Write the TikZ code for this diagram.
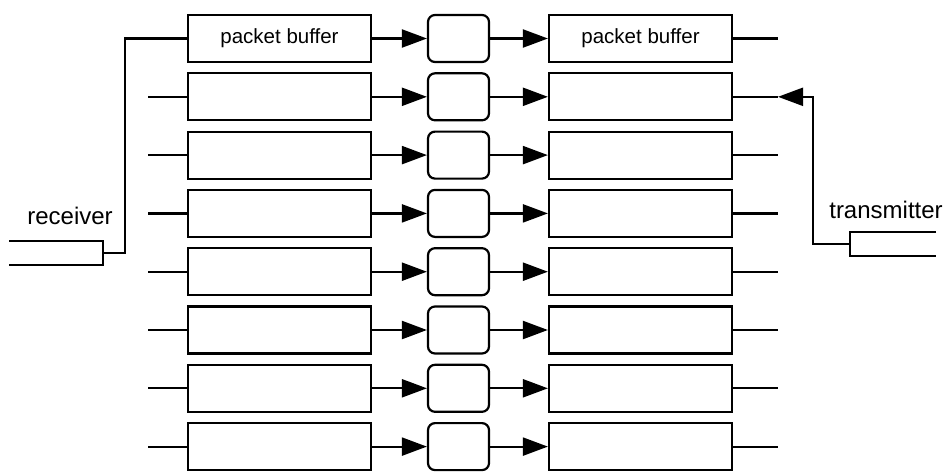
\documentclass[tikz,border=0pt]{standalone}
\usepackage{fontspec}
\setmainfont{Liberation Sans}
\usetikzlibrary{arrows.meta}
\begin{document}
\begin{tikzpicture}[x=1pt,y=-1pt, line width=2.2pt,
 buf/.style={draw, rectangle, minimum width=183pt, minimum height=47pt, inner sep=0pt},
 sw/.style={draw, rectangle, rounded corners=7pt, minimum width=61pt, minimum height=47pt, inner sep=0pt},
 arr/.style={-{Triangle[length=25pt,width=18pt]}},
 lab/.style={inner sep=0pt, font=\fontsize{24}{28}\selectfont},
 bl/.style={inner sep=0pt, font=\fontsize{20.5}{24}\selectfont}]
\useasboundingbox (0,0) rectangle (947,472);
\foreach \i in {1,...,8} {
  \pgfmathsetmacro\y{38.5+58.3*(\i-1)}
  \node[buf] (L\i) at (279.5,\y) {};
  \node[sw] (M\i) at (458.5,\y) {};
  \node[buf] (R\i) at (640.5,\y) {};
  \coordinate (RS\i) at (778,\y);
  \coordinate (LS\i) at (148,\y);
  \draw[arr] (L\i) -- (M\i);
  \draw[arr] (M\i) -- (R\i);
  \draw (R\i.east) -- (RS\i);
}
\foreach \i in {2,...,8} { \draw (LS\i) -- (L\i.west); }
\node[bl] (t1) at (L1) {packet buffer};
\node[bl] (t2) at (R1) {packet buffer};
% receiver
\coordinate (rxa) at (9,241);
\coordinate (rxb) at (103,241);
\coordinate (rxc) at (103,265);
\coordinate (rxd) at (9,265);
\coordinate (rxm) at (103,253);
\coordinate (rxk) at (125,253);
\draw (rxa) -- (rxb) -- (rxc) -- (rxd);
\draw (rxm) -- (rxk) |- (L1.west);
\node[lab] (rxl) at (70,216) {receiver};
% transmitter
\coordinate (txa) at (936,232);
\coordinate (txb) at (850,232);
\coordinate (txc) at (850,256);
\coordinate (txd) at (936,256);
\coordinate (txm) at (850,244);
\coordinate (txk) at (813,244);
\draw (txa) -- (txb) -- (txc) -- (txd);
\draw[arr] (txm) -- (txk) |- (RS2);
\node[lab] (txl) at (886,210) {transmitter};
\end{tikzpicture}
\end{document}
